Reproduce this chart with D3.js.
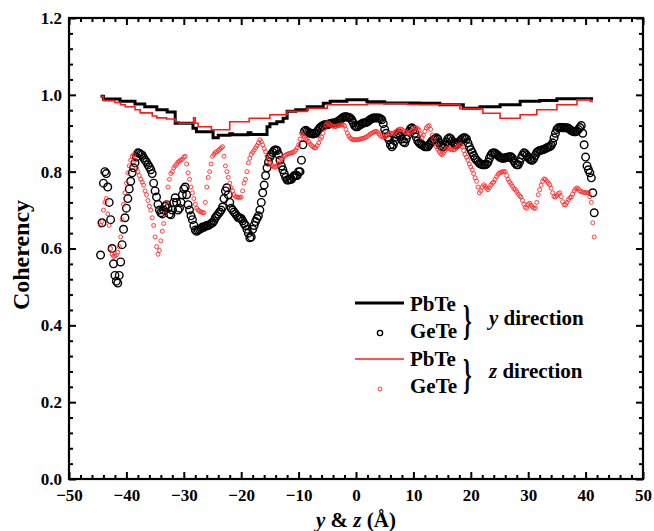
<!DOCTYPE html>
<html><head><meta charset="utf-8">
<script src="https://cdn.jsdelivr.net/npm/d3@7"></script>
<style>
body{margin:0;background:#fff}
svg{display:block}
text{font-family:"Liberation Serif","Times New Roman",serif;font-weight:bold;fill:#000}
</style>
</head><body>
<svg id="chart" width="654" height="531"></svg>
<script>
// ---------- data ----------
const xTickValues = [-50,-40,-30,-20,-10,0,10,20,30,40,50];
const yTickValues = [0,0.2,0.4,0.6,0.8,1.0,1.2];
const yTickLabels = ["0.0","0.2","0.4","0.6","0.8","1.0","1.2"];
const seriesNames = ["PbTe","GeTe","PbTe","GeTe"];
const directionLabels = ["y","z"];

// sampling grid of the GeTe point series (Å)
const gridStart = -44.5;
const gridStep = 0.25;

// GeTe, y direction (one row = 1 Å, starting at -44.5, -43.5, ...)
const geteY = [
.583,.667,.77,.80,  .795,.76,.72,.675,  .60,.56,.53,.515,  .51,.53,.565,.61,
.65,.68,.705,.73,  .755,.775,.797,.81,  .823,.838,.849,.848,  .845,.843,.836,.83,
.825,.818,.812,.805,  .795,.77,.75,.734,  .715,.70,.693,.69,  .70,.71,.714,.705,
.69,.688,.70,.72,  .732,.72,.70,.705,  .72,.74,.755,.76,  .74,.714,.70,.685,
.675,.66,.648,.645,  .648,.65,.652,.656,  .655,.658,.66,.66,  .662,.665,.667,.672,
.68,.685,.69,.695,  .70,.708,.73,.75,  .758,.74,.72,.705,  .70,.695,.69,.685,
.68,.68,.678,.672,  .665,.66,.65,.64,  .628,.63,.65,.66,  .67,.678,.685,.70,
.72,.745,.765,.79,  .81,.825,.838,.845,  .85,.855,.857,.855,  .845,.83,.815,.805,
.795,.785,.778,.778,  .78,.78,.785,.79,  .79,.79,.80,.80,  .83,.87,.905,.908,
.905,.902,.90,.90,  .898,.90,.90,.905,  .91,.915,.918,.92,  .922,.922,.922,.924,
.925,.926,.927,.927,  .928,.93,.932,.935,  .938,.941,.943,.943,  .942,.941,.94,.935,
.928,.92,.917,.917,  .92,.922,.925,.927,  .927,.928,.93,.933,  .936,.938,.94,.94,
.94,.94,.94,.938,  .935,.925,.91,.90,  .89,.883,.87,.865,  .87,.88,.89,.895,
.90,.892,.885,.878,  .875,.885,.895,.905,  .912,.914,.91,.90,  .89,.88,.875,.872,
.87,.867,.865,.865,  .865,.87,.875,.88,  .883,.885,.888,.885,  .875,.868,.865,.865,
.87,.878,.885,.888,  .886,.88,.875,.872,  .87,.872,.878,.882,  .886,.888,.888,.885,
.875,.865,.857,.85,  .842,.835,.83,.826,  .822,.82,.818,.818,  .818,.82,.825,.835,
.843,.848,.849,.848,  .845,.842,.838,.836,  .835,.835,.836,.837,  .838,.839,.839,.835,
.828,.822,.818,.818,  .825,.835,.843,.849,  .847,.842,.837,.833,  .83,.83,.835,.843,
.85,.853,.855,.856,  .857,.858,.86,.862,  .864,.865,.868,.875,  .888,.90,.91,.914,
.915,.915,.914,.914,  .914,.914,.913,.91,  .907,.905,.904,.904,  .906,.91,.915,.92,
.90,.87,.838,.815,  .805,.797,.784,.745,
.693
];

// GeTe, z direction (same grid)
const geteZ = [
.66,.67,.70,.72,  .73,.69,.66,.60,  .585,.58,.58,.583,  .59,.605,.63,.675,
.715,.745,.77,.797,  .815,.83,.84,.844,  .83,.81,.80,.79,  .78,.773,.765,.75,
.74,.725,.71,.70,  .68,.66,.63,.605,  .585,.595,.62,.645,  .665,.69,.72,.76,
.78,.795,.80,.81,  .815,.82,.825,.828,  .83,.832,.838,.84,  .82,.797,.78,.76,
.745,.73,.715,.705,  .70,.697,.695,.694,  .693,.72,.76,.785,  .80,.82,.84,.845,
.85,.852,.855,.858,  .862,.865,.84,.815,  .80,.785,.77,.758,  .75,.74,.735,.734,
.733,.733,.734,.75,  .77,.78,.80,.823,  .835,.845,.85,.856,  .862,.868,.875,.883,
.878,.87,.86,.852,  .84,.83,.823,.818,  .815,.812,.812,.815,  .82,.828,.833,.836,
.84,.843,.845,.847,  .848,.849,.85,.852,  .856,.862,.87,.885,  .90,.895,.89,.885,
.883,.878,.872,.868,  .865,.862,.862,.868,  .875,.885,.89,.90,  .912,.922,.927,.925,
.922,.92,.918,.917,  .918,.919,.92,.921,  .922,.922,.92,.91,  .90,.893,.888,.885,
.883,.883,.883,.883,  .884,.885,.886,.887,  .888,.89,.892,.895,  .898,.90,.902,.904,
.905,.903,.898,.894,  .891,.89,.89,.892,  .895,.898,.90,.90,  .90,.902,.905,.908,
.91,.911,.91,.907,  .904,.902,.90,.90,  .903,.906,.91,.913,  .914,.912,.908,.898,
.888,.895,.905,.914,  .918,.92,.91,.895,  .883,.875,.865,.858,  .852,.847,.844,.848,
.855,.86,.862,.86,  .858,.857,.857,.858,  .862,.866,.87,.87,  .865,.855,.845,.838,
.83,.82,.812,.805,  .795,.784,.775,.76,  .745,.75,.76,.766,  .762,.757,.753,.758,
.765,.77,.773,.78,  .787,.793,.797,.798,  .80,.80,.80,.79,  .78,.773,.768,.762,
.756,.753,.748,.742,  .737,.734,.725,.715,  .707,.705,.715,.718,  .713,.708,.705,.705,
.72,.74,.753,.765,  .775,.781,.78,.775,  .77,.766,.757,.745,  .735,.734,.738,.743,
.745,.735,.722,.714,  .714,.72,.727,.732,  .734,.742,.75,.755,  .758,.755,.75,.748,
.747,.746,.745,.745,  .745,.735,.72,.667,
.63
];

// PbTe, y direction (step line: x where a level starts, level value)
const pbteYx = [-44.5,-44.0,-41.1,-38.5,-36.8,-34.7,-32.9,-31.5,-28.4,-27.8,-24.9,-24.0,-22.0,-21.5,-18.8,-18.3,-15.5,-15.0,-13.8,-12.7,-12.0,-10.5,-8.5,-5.7,-4.5,-1.6,1.9,5.0,11.1,14.6,18.7,21.6,25.1,28.6,32.0,35.0,41.3];
const pbteYv = [0.996,0.989,0.983,0.976,0.969,0.961,0.955,0.926,0.913,0.904,0.888,0.895,0.899,0.896,0.901,0.897,0.917,0.925,0.930,0.939,0.957,0.961,0.969,0.978,0.983,0.987,0.982,0.979,0.978,0.974,0.965,0.969,0.974,0.983,0.985,0.990,0.990];

// PbTe, z direction
const pbteZx = [-44.5,-44.0,-42.0,-41.0,-40.2,-38.5,-37.6,-35.5,-34.7,-33.0,-31.5,-30.8,-28.3,-28.0,-27.5,-25.2,-22.0,-18.6,-15.0,-12.0,-8.5,-5.0,2.0,9.0,11.1,18.1,22.1,25.1,28.6,31.5,35.0,38.5,40.8,41.3];
const pbteZv = [0.996,0.985,0.980,0.974,0.969,0.961,0.953,0.945,0.940,0.937,0.930,0.926,0.940,0.926,0.917,0.909,0.930,0.939,0.948,0.957,0.965,0.974,0.977,0.975,0.974,0.964,0.952,0.939,0.948,0.961,0.974,0.987,0.983,0.983];

// ---------- drawing ----------
const svg = d3.select("#chart");
const L = 69, R = 643, T = 18, B = 479;
const x = d3.scaleLinear().domain([-50, 50]).range([L, R]);
const y = d3.scaleLinear().domain([0, 1.2]).range([B, T]);

const xMinor = d3.range(-50, 50.01, 2).filter(v => Math.abs(v % 10) > 1e-6);
const yMinor = d3.range(0, 1.2001, 0.04).filter(v => Math.abs(Math.round(v*100) % 20) > 1e-6);

function styleAxis(g){
  g.select(".domain").remove();
  g.selectAll(".tick line").attr("stroke","#000").attr("stroke-width",2);
  g.selectAll("text").attr("font-size","17px").attr("font-family","Liberation Serif, serif").attr("font-weight","bold").attr("fill","#000");
}

// bottom
svg.append("g").attr("transform",`translate(0,${B})`)
  .call(d3.axisBottom(x).tickValues(xTickValues).tickSizeInner(-7).tickSizeOuter(0).tickPadding(10).tickFormat(d3.format("d")))
  .call(styleAxis);
svg.append("g").attr("transform",`translate(0,${B})`)
  .call(d3.axisBottom(x).tickValues(xMinor).tickSizeInner(-4).tickSizeOuter(0).tickFormat(""))
  .call(styleAxis);
// top
svg.append("g").attr("transform",`translate(0,${T})`)
  .call(d3.axisTop(x).tickValues(xTickValues).tickSizeInner(-7).tickSizeOuter(0).tickFormat(""))
  .call(styleAxis);
svg.append("g").attr("transform",`translate(0,${T})`)
  .call(d3.axisTop(x).tickValues(xMinor).tickSizeInner(-4).tickSizeOuter(0).tickFormat(""))
  .call(styleAxis);
// left
svg.append("g").attr("transform",`translate(${L},0)`)
  .call(d3.axisLeft(y).tickValues(yTickValues).tickSizeInner(-7).tickSizeOuter(0).tickPadding(7).tickFormat((d,i)=>yTickLabels[i]))
  .call(styleAxis);
svg.append("g").attr("transform",`translate(${L},0)`)
  .call(d3.axisLeft(y).tickValues(yMinor).tickSizeInner(-4).tickSizeOuter(0).tickFormat(""))
  .call(styleAxis);
// right
svg.append("g").attr("transform",`translate(${R},0)`)
  .call(d3.axisRight(y).tickValues(yTickValues).tickSizeInner(-7).tickSizeOuter(0).tickFormat(""))
  .call(styleAxis);
svg.append("g").attr("transform",`translate(${R},0)`)
  .call(d3.axisRight(y).tickValues(yMinor).tickSizeInner(-4).tickSizeOuter(0).tickFormat(""))
  .call(styleAxis);

// frame
svg.append("rect").attr("x",L).attr("y",T).attr("width",R-L).attr("height",B-T)
  .attr("fill","none").attr("stroke","#000").attr("stroke-width",2.2);

// axis titles
svg.append("text").attr("transform",`translate(29,255) rotate(-90)`)
  .attr("text-anchor","middle").attr("font-size","24px").text("Coherency");
const xt = svg.append("text").attr("x",(L+R)/2).attr("y",527).attr("text-anchor","middle").attr("font-size","21px");
xt.append("tspan").attr("font-style","italic").text("y");
xt.append("tspan").text(" & ");
xt.append("tspan").attr("font-style","italic").text("z");
xt.append("tspan").text(" (Å)");

// data
const gridX = i => gridStart + i*gridStep;
const stepLine = d3.line().x(d=>x(d[0])).y(d=>y(d[1])).curve(d3.curveStepAfter);
const plot = svg.append("g");

plot.append("path").datum(pbteYx.map((v,i)=>[v,pbteYv[i]]))
  .attr("d",stepLine).attr("fill","none").attr("stroke","#000").attr("stroke-width",3);

plot.append("g").selectAll("circle").data(geteY).join("circle")
  .attr("cx",(d,i)=>x(gridX(i))).attr("cy",d=>y(d)).attr("r",3.8)
  .attr("fill","none").attr("stroke","#000").attr("stroke-width",1.4);

plot.append("path").datum(pbteZx.map((v,i)=>[v,pbteZv[i]]))
  .attr("d",stepLine).attr("fill","none").attr("stroke","#ff1a1a").attr("stroke-width",1.6);

plot.append("g").selectAll("circle").data(geteZ).join("circle")
  .attr("cx",(d,i)=>x(gridX(i))).attr("cy",d=>y(d)).attr("r",2)
  .attr("fill","none").attr("stroke","#ff2a2a").attr("stroke-width",0.9);

// legend
const lg = svg.append("g").attr("font-size","21px");
const rows = [
  {name:seriesNames[0], type:"line", color:"#000", w:3, yy:303, ty:311},
  {name:seriesNames[1], type:"pt", color:"#000", r:2.6, sw:1.4, yy:333, ty:338},
  {name:seriesNames[2], type:"line", color:"#ff1a1a", w:1.6, yy:359, ty:366},
  {name:seriesNames[3], type:"pt", color:"#ff2a2a", r:2, sw:0.9, yy:389, ty:393}
];
rows.forEach(r=>{
  if(r.type==="line"){
    lg.append("line").attr("x1",355).attr("x2",404).attr("y1",r.yy).attr("y2",r.yy)
      .attr("stroke",r.color).attr("stroke-width",r.w);
  } else {
    lg.append("circle").attr("cx",380).attr("cy",r.yy).attr("r",r.r)
      .attr("fill","none").attr("stroke",r.color).attr("stroke-width",r.sw);
  }
  lg.append("text").attr("x",410).attr("y",r.ty).text(r.name);
});
[[334],[388]].forEach((p,k)=>{
  lg.append("text").attr("transform",`translate(463,${p[0]}) scale(0.55,1.05)`)
    .attr("font-size","40px").attr("font-weight","normal").text("}");
  const t = lg.append("text").attr("x",489).attr("y",k===0?325:378);
  t.append("tspan").attr("font-style","italic").text(directionLabels[k]);
  t.append("tspan").text(" direction");
});
</script>
</body></html>
